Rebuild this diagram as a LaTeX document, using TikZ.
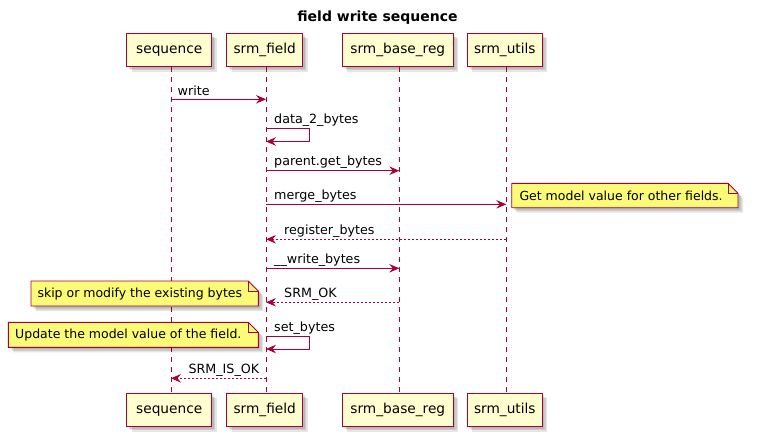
\documentclass[tikz,border=0pt]{standalone}
\usepackage{fontspec}
\setmainfont{DejaVu Sans}
\usetikzlibrary{arrows.meta}
\definecolor{pfill}{HTML}{FEFECE}
\definecolor{pline}{HTML}{A80036}
\definecolor{nfill}{HTML}{FBFB77}
\begin{document}
\begin{tikzpicture}[x=1pt,y=-1pt,
  shadowed/.style={
    preaction={fill=black,opacity=0.10,transform canvas={xshift=2pt,yshift=-2pt}},
    preaction={fill=black,opacity=0.10,transform canvas={xshift=3.5pt,yshift=-3.5pt}},
    preaction={fill=black,opacity=0.10,transform canvas={xshift=5pt,yshift=-5pt}}},
  pbox/.style={shadowed,draw=pline,fill=pfill,line width=1.2pt,minimum height=33.5pt,
    inner sep=0pt,text height=10pt,text depth=3pt,font=\fontsize{13.7}{16}\selectfont},
  lifeline/.style={draw=pline,line width=0.9pt,dash pattern=on 5pt off 5pt},
  msg/.style={draw=pline,line width=0.9pt,-{Stealth[length=10pt,width=8.5pt,inset=3.5pt]}},
  ret/.style={msg,dash pattern=on 2pt off 2pt},
  lbl/.style={anchor=base west,inner sep=0pt,font=\fontsize{12.7}{15}\selectfont},
  ntxt/.style={anchor=base west,inner sep=0pt,font=\fontsize{12.5}{15}\selectfont},
  notebox/.style={shadowed,draw=pline,fill=nfill,line width=0.9pt}]
\fill[white] (0,0) rectangle (759,436);
\useasboundingbox (0,0) rectangle (759,436);

% title
\node[anchor=base,inner sep=0pt,font=\bfseries\fontsize{14}{16}\selectfont] (title) at (377.5,22) {field write sequence};

% lifeline x positions and message y positions
\coordinate (lSeq) at (171,0);
\coordinate (lFld) at (266,0);
\coordinate (lReg) at (399.3,0);
\coordinate (lUtl) at (506.3,0);
\coordinate (loopx) at (309,0);
\coordinate (y1) at (0,99.3);
\coordinate (y2a) at (0,128.3);
\coordinate (y2b) at (0,141.5);
\coordinate (y3) at (0,170.7);
\coordinate (y4) at (0,204.3);
\coordinate (y5) at (0,239.3);
\coordinate (y6) at (0,268.3);
\coordinate (y7) at (0,302.3);
\coordinate (y8a) at (0,336.7);
\coordinate (y8b) at (0,349);
\coordinate (y9) at (0,378.3);

% participants
\node[pbox,minimum width=85pt] (pSeqT) at (169.2,50) {sequence};
\node[pbox,minimum width=76pt] (pFldT) at (264.7,50) {srm\_field};
\node[pbox,minimum width=111pt] (pRegT) at (397.8,50) {srm\_base\_reg};
\node[pbox,minimum width=75pt] (pUtlT) at (504.8,50) {srm\_utils};
\node[pbox,minimum width=85pt] (pSeqB) at (169.2,410) {sequence};
\node[pbox,minimum width=76pt] (pFldB) at (264.7,410) {srm\_field};
\node[pbox,minimum width=111pt] (pRegB) at (397.8,410) {srm\_base\_reg};
\node[pbox,minimum width=75pt] (pUtlB) at (504.8,410) {srm\_utils};

% lifelines
\draw[lifeline] (pSeqT.south -| lSeq) -- (pSeqB.north -| lSeq);
\draw[lifeline] (pFldT.south -| lFld) -- (pFldB.north -| lFld);
\draw[lifeline] (pRegT.south -| lReg) -- (pRegB.north -| lReg);
\draw[lifeline] (pUtlT.south -| lUtl) -- (pUtlB.north -| lUtl);

% notes
\coordinate (n1a) at (511.7,183.3); \coordinate (n1b) at (738,207.7);
\path[notebox] (n1a) -- ([xshift=-10pt]n1a -| n1b) -- ([yshift=-10pt]n1a -| n1b) -- (n1b) -- (n1a |- n1b) -- cycle;
\draw[pline,line width=0.9pt] ([xshift=-10pt]n1a -| n1b) -- ([xshift=-10pt,yshift=-10pt]n1a -| n1b) -- ([yshift=-10pt]n1a -| n1b);
\node[ntxt] (n1) at (519.3,200) {Get model value for other fields.};

\coordinate (n2a) at (31,281); \coordinate (n2b) at (258.3,306);
\path[notebox] (n2a) -- ([xshift=-10pt]n2a -| n2b) -- ([yshift=-10pt]n2a -| n2b) -- (n2b) -- (n2a |- n2b) -- cycle;
\draw[pline,line width=0.9pt] ([xshift=-10pt]n2a -| n2b) -- ([xshift=-10pt,yshift=-10pt]n2a -| n2b) -- ([yshift=-10pt]n2a -| n2b);
\node[ntxt] (n2) at (37.3,297.3) {skip or modify the existing bytes};

\coordinate (n3a) at (8.3,322.3); \coordinate (n3b) at (258.3,347.3);
\path[notebox] (n3a) -- ([xshift=-10pt]n3a -| n3b) -- ([yshift=-10pt]n3a -| n3b) -- (n3b) -- (n3a |- n3b) -- cycle;
\draw[pline,line width=0.9pt] ([xshift=-10pt]n3a -| n3b) -- ([xshift=-10pt,yshift=-10pt]n3a -| n3b) -- ([yshift=-10pt]n3a -| n3b);
\node[ntxt] (n3) at (15,338.3) {Update the model value of the field.};

% messages
\draw[msg] (lSeq |- y1) -- (lFld |- y1);
\node[lbl] (m1) at (177.5,95) {write};

\draw[msg] (lFld |- y2a) -- (loopx |- y2a) -- (loopx |- y2b) -- (lFld |- y2b);
\node[lbl] (m2) at (274,123.5) {data\_2\_bytes};

\draw[msg] (lFld |- y3) -- (lReg |- y3);
\node[lbl] (m3) at (274,165.7) {parent.get\_bytes};

\draw[msg] (lFld |- y4) -- (lUtl |- y4);
\node[lbl] (m4) at (274,199.3) {merge\_bytes};

\draw[ret] (lUtl |- y5) -- (lFld |- y5);
\node[lbl] (m5) at (284,234.5) {register\_bytes};

\draw[msg] (lFld |- y6) -- (lReg |- y6);
\node[lbl] (m6) at (274,263.5) {\_\_write\_bytes};

\draw[ret] (lReg |- y7) -- (lFld |- y7);
\node[lbl] (m7) at (284,297.5) {SRM\_OK};

\draw[msg] (lFld |- y8a) -- (loopx |- y8a) -- (loopx |- y8b) -- (lFld |- y8b);
\node[lbl] (m8) at (274,331.7) {set\_bytes};

\draw[ret] (lFld |- y9) -- (lSeq |- y9);
\node[lbl] (m9) at (188.3,373.5) {SRM\_IS\_OK};
\end{tikzpicture}
\end{document}
